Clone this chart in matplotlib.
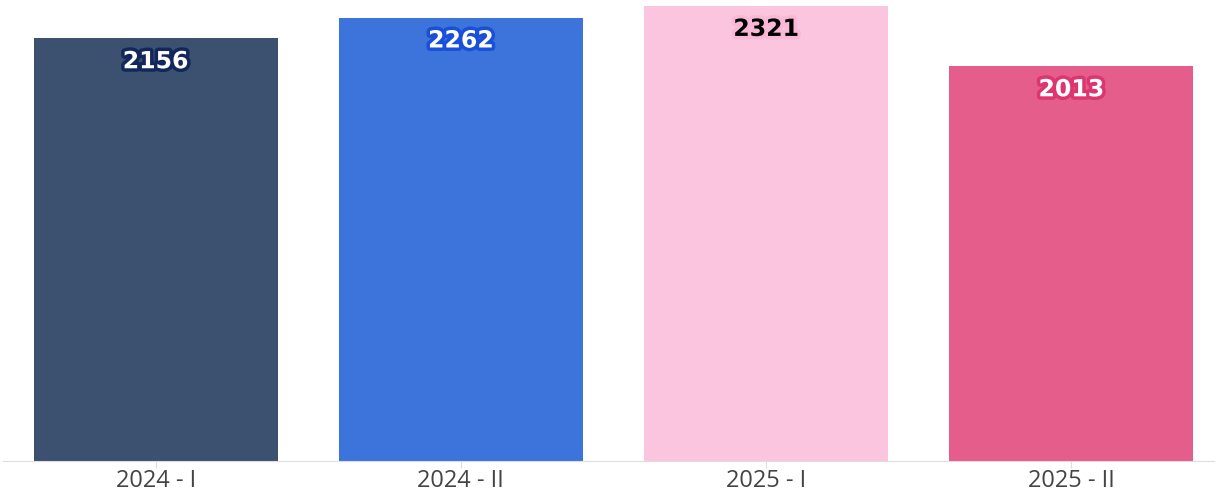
import matplotlib
matplotlib.use("Agg")
import matplotlib.pyplot as plt
import matplotlib.patheffects as pe

# data
categories = ["2024 - I", "2024 - II", "2025 - I", "2025 - II"]
values = [2156, 2262, 2321, 2013]
bar_colors = ["#3c5070", "#3d74dc", "#fcc5df", "#e55e8b"]
label_colors = ["white", "white", "black", "white"]
stroke_colors = ["#13285a", "#1a4fd8", "#f9b8d6", "#dd356d"]

fig = plt.figure(figsize=(12.17, 4.93), dpi=100)
ax = fig.add_axes([3 / 1217, 32 / 493, 1211 / 1217, 461 / 493])

x = range(len(categories))
ax.bar(x, values, width=0.8, color=bar_colors, zorder=2)

ymax = 461 / (455 / 2321)
ax.set_ylim(0, ymax)
ax.set_xlim(-0.5, (1214 - 156.5) / 305)

for i, v in enumerate(values):
    ax.annotate(str(v), (i, v), xytext=(0, -16.5), textcoords="offset points",
                ha="center", va="center", fontsize=17, fontweight="bold",
                family="DejaVu Sans", color=label_colors[i],
                path_effects=[pe.withStroke(linewidth=5, foreground=stroke_colors[i])])

ax.set_xticks(list(x))
ax.set_xticklabels(categories, fontsize=17, color="#444444", family="Open Sans")
ax.tick_params(axis="x", length=5, color="#dddddd", pad=1)
ax.set_yticks([])
for s in ["top", "right", "left"]:
    ax.spines[s].set_visible(False)
ax.spines["bottom"].set_color("#dddddd")

fig.savefig("out.png", dpi=100)
